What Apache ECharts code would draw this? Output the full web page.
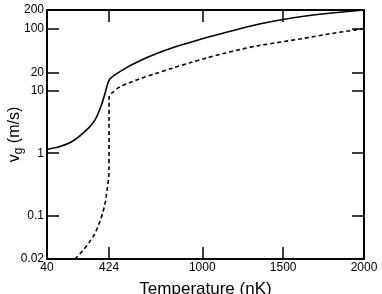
<!DOCTYPE html>
<html><head><meta charset="utf-8">
<script src="https://cdn.jsdelivr.net/npm/echarts@6/dist/echarts.min.js"></script>
<style>html,body{margin:0;padding:0;background:#fff}#c{width:382px;height:294px}</style>
</head><body><div id="c"></div>
<script>
// Temperature (nK) and group velocity (m/s)
const solidT = [40, 120, 203, 285, 337, 378, 399, 424, 460, 543, 615, 718, 821, 903, 1068, 1274, 1480, 1686, 2000];
const solidV = [1.15, 1.28, 1.59, 2.37, 3.43, 6.1, 9.2, 15, 18.1, 24.6, 30.5, 40, 50, 58, 77, 107, 138, 166, 200];
const dashedT = [213, 265, 304, 337, 363, 384, 399, 409, 417, 423, 424, 440, 491, 543, 615, 718, 821, 924, 1028, 1131, 1234, 1348, 1604, 1810, 2000];
const dashedV = [0.02, 0.028, 0.038, 0.052, 0.075, 0.109, 0.157, 0.228, 0.33, 0.48, 8.3, 9.2, 11.7, 13.3, 15.8, 19.3, 23.5, 28.5, 34, 40, 46.5, 53.5, 68.5, 84.7, 100];
const xTickLabels = [40, 424, 1000, 1500, 2000];
const xTicks = [424, 1000, 1500];
const yTickLabels = [0.02, 0.1, 1, 10, 20, 100, 200];
const yTicks = [0.1, 1, 10, 20, 100];
const yMin = 0.02, yMax = 200;

const lg = Math.log10;
const pair = (xs, ys) => xs.map((x, i) => [x, lg(ys[i])]);
const fmtY = v => String(+Math.pow(10, v).toPrecision(3));
const fmtX = v => String(v);
const FF = 'Liberation Sans, Arial, Helvetica, sans-serif';
const line = {show: true, onZero: false, lineStyle: {color: '#000', width: 2}};
const tick = vals => ({show: true, inside: true, length: 12, customValues: vals, lineStyle: {color: '#000', width: 1.5}});

const chart = echarts.init(document.getElementById('c'), null, {renderer: 'canvas'});
chart.setOption({
  animation: false,
  backgroundColor: '#fff',
  grid: {left: 47, right: 18, top: 10, bottom: 35, containLabel: false, outerBoundsMode: 'none'},
  xAxis: [
    {type: 'value', position: 'bottom', min: 40, max: 2000, axisLine: line, axisTick: tick(xTicks),
     axisLabel: {customValues: xTickLabels, formatter: fmtX, color: '#000', fontSize: 12, fontFamily: FF, margin: 3},
     splitLine: {show: false},
     name: 'Temperature (nK)', nameLocation: 'middle', nameGap: 22, nameMoveOverlap: false,
     nameTextStyle: {color: '#000', fontSize: 17, fontFamily: FF}},
    {type: 'value', position: 'top', min: 40, max: 2000, axisLine: line, axisTick: tick(xTicks),
     axisLabel: {show: false}, splitLine: {show: false}}
  ],
  yAxis: [
    {type: 'value', position: 'left', min: lg(yMin), max: lg(yMax), axisLine: line, axisTick: tick(yTicks.map(lg)),
     axisLabel: {customValues: yTickLabels.map(lg), formatter: fmtY, color: '#000', fontSize: 12, fontFamily: FF, margin: 3},
     splitLine: {show: false},
     name: '{a|v}{b|g}{a| (m/s)}', nameLocation: 'middle', nameGap: 22, nameMoveOverlap: false,
     nameTextStyle: {color: '#000', rich: {
       a: {fontSize: 16, fontFamily: FF, color: '#000'},
       b: {fontSize: 12, fontFamily: FF, color: '#000', padding: [8, 0, 0, 0]}
     }}},
    {type: 'value', position: 'right', min: lg(yMin), max: lg(yMax), axisLine: line, axisTick: tick(yTicks.map(lg)),
     axisLabel: {show: false}, splitLine: {show: false}}
  ],
  series: [
    {type: 'line', data: pair(solidT, solidV), showSymbol: false, symbol: 'none', smooth: 0.3,
     lineStyle: {color: '#000', width: 1.6}},
    {type: 'line', data: pair(dashedT, dashedV), showSymbol: false, symbol: 'none', smooth: 0.3,
     lineStyle: {color: '#000', width: 1.6, type: [4, 3]}}
  ]
});
</script></body></html>
